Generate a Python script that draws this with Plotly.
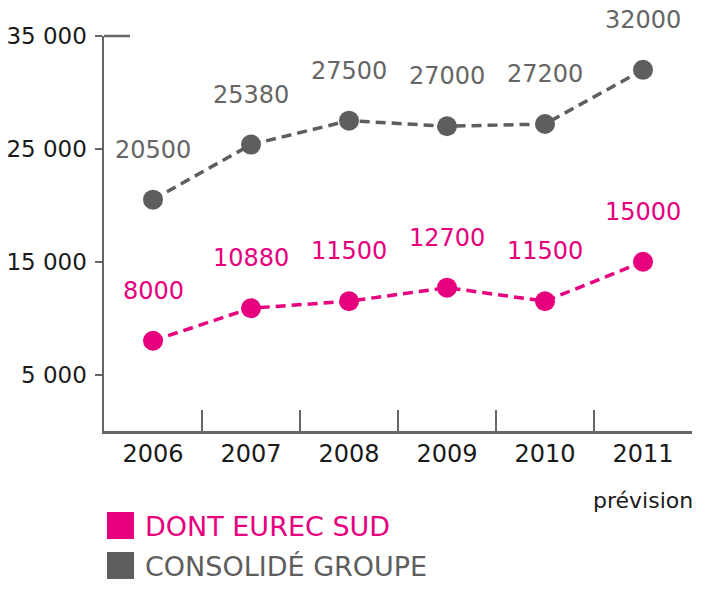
import plotly.graph_objects as go

years = ["2006", "2007", "2008", "2009", "2010", "2011"]
groupe = [20500, 25380, 27500, 27000, 27200, 32000]
eurec = [8000, 10880, 11500, 12700, 11500, 15000]
y_ticks = [5000, 15000, 25000, 35000]
y_tick_labels = ["5 000", "15 000", "25 000", "35 000"]
series_names = ["DONT EUREC SUD", "CONSOLIDÉ GROUPE"]
note = "prévision"

GRAY = "#5e5e5e"
LABEL_GRAY = "#666666"
PINK = "#e6007e"
AXIS = "#666666"
FONT = "DejaVu Sans"

W, H = 722, 596
L, R, T, B = 104, 30, 36, 165
PW, PH = W - L - R, H - T - B


def px_x(x):
    return (x - L) / PW


def px_y(y):
    return (H - B - y) / PH


fig = go.Figure()
for vals, col, lcol in ((groupe, GRAY, LABEL_GRAY), (eurec, PINK, PINK)):
    fig.add_trace(go.Scatter(
        x=years, y=vals, mode="lines+markers",
        line=dict(color=col, width=3.5, dash="10px,6px"),
        marker=dict(color=col, size=20, line=dict(width=0)),
        showlegend=False, hoverinfo="skip",
    ))
    for i, yv in enumerate(vals):
        fig.add_annotation(
            x=i, y=yv, xref="x", yref="y", text=str(yv), showarrow=False,
            yshift=50, yanchor="middle",
            font=dict(family=FONT, size=24, color=lcol),
        )

# top cap of the y axis
fig.add_shape(type="line", xref="paper", yref="paper",
              x0=0, x1=px_x(130), y0=1, y1=1,
              line=dict(color=AXIS, width=2.5))

# "prévision" note under 2011
fig.add_annotation(x=len(years) - 1, xref="x", y=px_y(500), yref="paper",
                   yanchor="middle", text=note, showarrow=False, xshift=0,
                   font=dict(family=FONT, size=22, color="#1a1a1a"))

# legend
for i, (name, col) in enumerate(zip(series_names, [PINK, GRAY])):
    top = 512 + i * 40
    fig.add_shape(type="rect", xref="paper", yref="paper",
                  x0=px_x(107), x1=px_x(134), y0=px_y(top), y1=px_y(top + 27),
                  fillcolor=col, line=dict(width=0))
    fig.add_annotation(x=px_x(143), y=px_y(top + 14), xref="paper", yref="paper",
                       xanchor="left", yanchor="middle", text=name, showarrow=False,
                       font=dict(family=FONT, size=27, color=col))

fig.update_layout(
    width=W, height=H, autosize=False,
    margin=dict(l=L, r=R, t=T, b=B),
    paper_bgcolor="white", plot_bgcolor="white",
    xaxis=dict(
        type="category", range=[-0.5, 5.5], tickson="boundaries",
        ticks="inside", ticklen=21, tickwidth=2, tickcolor=AXIS,
        showline=True, linewidth=2.5, linecolor=AXIS, showgrid=False,
        zeroline=False, ticklabelstandoff=0, automargin=False,
        tickfont=dict(family=FONT, size=24, color="#1a1a1a"),
    ),
    yaxis=dict(
        range=[0, 35000], tickvals=y_ticks, ticktext=y_tick_labels,
        ticks="outside", ticklen=7, tickwidth=2, tickcolor=AXIS,
        showline=True, linewidth=2.5, linecolor=AXIS, showgrid=False,
        zeroline=False, ticklabelstandoff=3, automargin=False,
        tickfont=dict(family=FONT, size=23, color="#1a1a1a"),
    ),
)

fig.write_html("out.html",
               config={"displayModeBar": False, "staticPlot": True},
               post_script="document.body.style.margin='0';"
                           "document.body.style.overflow='hidden';")
